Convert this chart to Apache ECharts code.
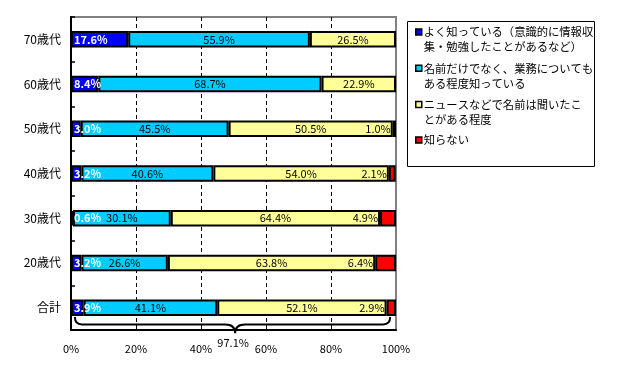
<!DOCTYPE html>
<html>
<head>
<meta charset="utf-8">
<script src="https://cdn.jsdelivr.net/npm/echarts@6/dist/echarts.min.js"></script>
<style>
html,body{margin:0;padding:0;background:#fff;}
#chart{width:622px;height:381px;}
</style>
</head>
<body>
<div id="chart"></div>
<script>
// ---- data ----
const categories = ['70歳代', '60歳代', '50歳代', '40歳代', '30歳代', '20歳代', '合計'];
const seriesNames = [
  'よく知っている（意識的に情報収集・勉強したことがあるなど）',
  '名前だけでなく、業務についてもある程度知っている',
  'ニュースなどで名前は聞いたことがある程度',
  '知らない'
];
const legendLines = [
  ['よく知っている（意識的に情報収', '集・勉強したことがあるなど）'],
  ['名前だけでなく、業務についても', 'ある程度知っている'],
  ['ニュースなどで名前は聞いたこ', 'とがある程度'],
  ['知らない']
];
const wellKnown     = [17.6, 8.4, 3.0, 3.2, 0.6, 3.2, 3.9];
const somewhatKnown = [55.9, 68.7, 45.5, 40.6, 30.1, 26.6, 41.1];
const heardOf       = [26.5, 22.9, 50.5, 54.0, 64.4, 63.8, 52.1];
const unknown       = ['-', '-', 1.0, 2.1, 4.9, 6.4, 2.9];
const xMin = 0, xMax = 100, xInterval = 20;
// brace under the total bar: [from %, to %, tip %, category, label]
const braceData = [[1.2, 98.2, 50.5, '合計', '97.1%']];

const colors = ['#0000FF', '#00CCFF', '#FFFF99', '#FF0000'];
const FONT = "'Noto Sans CJK JP', 'Noto Sans', sans-serif";

const chart = echarts.init(document.getElementById('chart'), null, {renderer: 'canvas'});

const fmt = p => (typeof p.value === 'number' ? p.value.toFixed(1) + '%' : '');
const barCommon = {
  type: 'bar', stack: 'total', barWidth: 16.5,
  itemStyle: {borderColor: '#000', borderWidth: 2},
  emphasis: {disabled: true}
};
const labelCommon = {show: true, formatter: fmt, fontSize: 11, fontFamily: FONT, color: '#000'};

const allData = [wellKnown, somewhatKnown, heardOf, unknown];
const labelCfg = [
  {position: 'insideLeft', distance: 3, color: '#fff', fontWeight: 'bold'},
  {position: 'inside'},
  {position: 'inside'},
  {position: 'left', distance: 2}
];

const series = allData.map((d, i) => Object.assign({}, barCommon, {
  name: seriesNames[i],
  data: d,
  itemStyle: Object.assign({}, barCommon.itemStyle, {color: colors[i]}),
  label: Object.assign({}, labelCommon, labelCfg[i])
}));

series.push({
  type: 'custom',
  name: 'brace',
  silent: true,
  clip: false,
  z: 5,
  encode: {x: [0, 1, 2], y: 3},
  data: braceData,
  renderItem: function (params, api) {
    const cat = api.value(3);
    const p0 = api.coord([api.value(0), cat]);
    const p1 = api.coord([api.value(1), cat]);
    const pt = api.coord([api.value(2), cat]);
    const band = api.size([0, 1])[1];
    const yTop = p0[1] + band * 0.21;
    const yMid = p0[1] + band * 0.375;
    const yTip = p0[1] + band * 0.57;
    const r = 7, rt = 10;
    const x0 = p0[0], x1 = p1[0], xt = pt[0];
    const path = 'M' + x0 + ',' + yTop +
      ' Q' + x0 + ',' + yMid + ' ' + (x0 + r) + ',' + yMid +
      ' L' + (xt - rt) + ',' + yMid +
      ' Q' + xt + ',' + yMid + ' ' + xt + ',' + yTip +
      ' Q' + xt + ',' + yMid + ' ' + (xt + rt) + ',' + yMid +
      ' L' + (x1 - r) + ',' + yMid +
      ' Q' + x1 + ',' + yMid + ' ' + x1 + ',' + yTop;
    return {
      type: 'group',
      children: [
        {type: 'path', shape: {pathData: path}, style: {fill: null, stroke: '#000', lineWidth: 2}},
        {type: 'text', style: {text: api.value(4), x: xt - 2, y: yTip + 10, textAlign: 'center', textVerticalAlign: 'middle', fontSize: 11, fontFamily: FONT, fill: '#000'}}
      ]
    };
  }
});

function legendItems(indices) {
  return indices.map(i => ({
    name: seriesNames[i],
    itemStyle: {color: colors[i], borderColor: '#000', borderWidth: 1.5}
  }));
}
const legendCommon = {
  orient: 'vertical', left: 415, padding: 0,
  itemWidth: 6, itemHeight: 6, itemGap: -8.7,
  icon: 'rect', selectedMode: false,
  formatter: function (name) {
    const lines = legendLines[seriesNames.indexOf(name)];
    return lines.length > 1 ? [' '].concat(lines).join('\n') : lines[0];
  },
  textStyle: {fontSize: 11.3, lineHeight: 15, fontFamily: FONT, color: '#000', padding: [0, 0, 0, -3]}
};

const option = {
  animation: false,
  backgroundColor: '#fff',
  grid: {left: 71, right: 226, top: 17, bottom: 51, show: true, borderColor: '#808080', borderWidth: 2, backgroundColor: 'transparent'},
  xAxis: {
    type: 'value', min: xMin, max: xMax, interval: xInterval,
    axisLine: {show: true, lineStyle: {color: '#000', width: 2}},
    axisTick: {show: false},
    axisLabel: {formatter: '{value}%', fontSize: 11, fontFamily: FONT, color: '#000', margin: 13},
    splitLine: {show: true, showMinLine: false, showMaxLine: false, lineStyle: {color: '#000', type: [4, 3], width: 1}}
  },
  yAxis: {
    type: 'category', data: categories, inverse: true,
    axisLine: {show: true, lineStyle: {color: '#000', width: 2}},
    axisTick: {show: true, inside: true, length: 4, lineStyle: {color: '#000', width: 1.5}},
    axisLabel: {fontSize: 12, fontFamily: FONT, color: '#000', margin: 10},
    splitLine: {show: false}
  },
  graphic: [{
    type: 'rect', left: 407, top: 21, z: -1,
    shape: {width: 187, height: 145},
    style: {fill: '#fff', stroke: '#000', lineWidth: 1}
  }],
  legend: [
    Object.assign({}, legendCommon, {top: 9.5, data: legendItems([0, 1, 2])}),
    Object.assign({}, legendCommon, {top: 132.5, data: legendItems([3])})
  ],
  series: series
};
chart.setOption(option);
</script>
</body>
</html>
